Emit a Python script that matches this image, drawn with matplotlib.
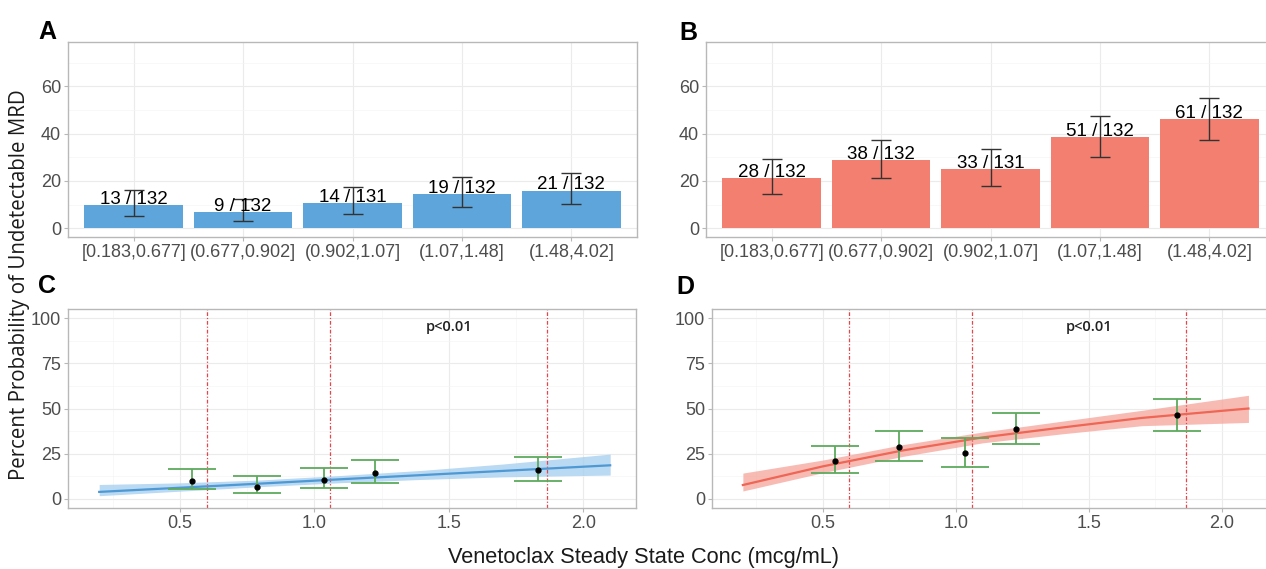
import numpy as np
import matplotlib
matplotlib.use("Agg")
import matplotlib.pyplot as plt
from matplotlib.ticker import FixedLocator

# ---- data -------------------------------------------------------------
bins = ["[0.183,0.677]", "(0.677,0.902]", "(0.902,1.07]", "(1.07,1.48]", "(1.48,4.02]"]

n_total = [132, 132, 131, 132, 132]
a_resp = [13, 9, 14, 19, 21]
a_lo = [5.3, 3.2, 5.9, 8.9, 10.1]
a_hi = [16.3, 12.5, 17.3, 21.6, 23.3]

b_resp = [28, 38, 33, 51, 61]
b_lo = [14.6, 21.2, 17.9, 30.3, 37.5]
b_hi = [29.2, 37.3, 33.6, 47.5, 55.0]

# mean concentration per bin (panels C/D)
bin_conc = [0.545, 0.785, 1.035, 1.225, 1.83]
cut_lines = [0.60, 1.06, 1.865]

# fitted curve and confidence band
fit_x = [0.2, 0.5, 0.8, 1.1, 1.4, 1.7, 2.1]
c_fit = [3.9, 6.2, 8.5, 10.9, 13.2, 15.5, 18.6]
c_fit_lo = [1.8, 4.3, 6.8, 9.0, 10.8, 12.2, 13.2]
c_fit_hi = [8.0, 8.9, 10.5, 13.0, 15.8, 19.3, 24.8]
d_fit = [7.7, 18.0, 26.8, 34.0, 39.5, 44.8, 50.0]
d_fit_lo = [4.4, 14.5, 23.5, 31.0, 36.0, 40.5, 42.3]
d_fit_hi = [14.3, 21.5, 30.0, 37.0, 43.0, 49.0, 57.3]

# ---- style ------------------------------------------------------------
W, H = 1266, 569
BLUE_BAR = "#5DA5DA"
RED_BAR = "#F37F70"
TICK_COL = "#4D4D4D"
GRID_MAJ = "#EBEBEB"
GRID_MIN = "#F5F5F5"
BORDER = "#B8B8B8"
GREEN = "#5DAA5D"
VLINE = "#E2474C"
FONT = "Liberation Sans"

plt.rcParams["font.family"] = FONT

fig = plt.figure(figsize=(W / 100, H / 100), dpi=100)


def px_axes(left, top, right, bottom):
    return fig.add_axes([left / W, 1 - bottom / H, (right - left) / W, (bottom - top) / H])


def style_axes(ax):
    ax.set_facecolor("white")
    for sp in ax.spines.values():
        sp.set_color(BORDER)
        sp.set_linewidth(1.0)
    ax.grid(True, which="major", color=GRID_MAJ, linewidth=0.8)
    ax.grid(True, which="minor", color=GRID_MIN, linewidth=0.5)
    ax.set_axisbelow(True)
    ax.tick_params(which="major", length=3, width=0.8, color=BORDER,
                   labelcolor=TICK_COL, labelsize=13, pad=2)
    ax.tick_params(which="minor", length=0)


def bar_panel(ax, resp, lo, hi, color):
    pos = np.arange(1, len(bins) + 1)
    pct = [100 * r / n for r, n in zip(resp, n_total)]
    ax.bar(pos, pct, width=0.9, color=color, zorder=2)
    ax.errorbar(pos, pct, yerr=[np.array(pct) - lo, np.array(hi) - pct],
                fmt="none", ecolor="#333333", elinewidth=1.0, capsize=7.5,
                capthick=1.0, zorder=3)
    for x, p, r, n in zip(pos, pct, resp, n_total):
        ax.annotate(f"{r} / {n}", (x, p), xytext=(0, 4), textcoords="offset points",
                    ha="center", va="center", fontsize=13.5, color="black", zorder=4)
    ax.set_xlim(0.4, 5.6)
    ax.set_ylim(-3.75, 78.75)
    ax.set_xticks(pos)
    ax.set_xticklabels(bins)
    ax.set_yticks([0, 20, 40, 60])
    ax.yaxis.set_minor_locator(FixedLocator([10, 30, 50, 70]))
    style_axes(ax)


def curve_panel(ax, resp, lo, hi, fit, fit_lo, fit_hi, line_col, band_col):
    pct = [100 * r / n for r, n in zip(resp, n_total)]
    ax.fill_between(fit_x, fit_lo, fit_hi, color=band_col, alpha=0.75, lw=0, zorder=2)
    ax.plot(fit_x, fit, color=line_col, lw=1.6, zorder=3)
    for xv in cut_lines:
        ax.axvline(xv, color=VLINE, lw=0.9, ls=(0, (3, 1.5, 1, 1.5)), zorder=2)
    ax.errorbar(bin_conc, pct, yerr=[np.array(pct) - lo, np.array(hi) - pct],
                fmt="o", ms=3.5, mfc="black", mec="black", ecolor=GREEN,
                elinewidth=1.3, capsize=17, capthick=1.3, zorder=4)
    ax.text(1.5, 95, "p<0.01", ha="center", va="center", fontsize=10.5,
            family="Open Sans", fontweight="semibold", color="#222222")
    ax.set_xlim(0.084, 2.196)
    ax.set_ylim(-5, 105)
    ax.set_xticks([0.5, 1.0, 1.5, 2.0])
    ax.set_yticks([0, 25, 50, 75, 100])
    ax.xaxis.set_minor_locator(FixedLocator([0.25, 0.75, 1.25, 1.75]))
    ax.yaxis.set_minor_locator(FixedLocator([12.5, 37.5, 62.5, 87.5]))
    style_axes(ax)


ax_a = px_axes(68, 42, 637, 237)
bar_panel(ax_a, a_resp, a_lo, a_hi, BLUE_BAR)
ax_b = px_axes(706, 42, 1275, 237)
bar_panel(ax_b, b_resp, b_lo, b_hi, RED_BAR)

ax_c = px_axes(68, 309, 636, 508)
curve_panel(ax_c, a_resp, a_lo, a_hi, c_fit, c_fit_lo, c_fit_hi, "#4E98D3", "#A3CDEE")
ax_d = px_axes(712, 309, 1274, 508)
curve_panel(ax_d, b_resp, b_lo, b_hi, d_fit, d_fit_lo, d_fit_hi, "#EE6655", "#F6A49A")

# panel letters
for lab, x, y in [("A", 38, 39), ("B", 679, 40), ("C", 38, 293), ("D", 676, 294)]:
    fig.text(x / W, 1 - y / H, lab, fontsize=18, fontweight="bold",
             ha="left", va="baseline", color="black")

fig.text(20 / W, 1 - 285 / H, "Percent Probability of Undetectable MRD",
         rotation=90, ha="center", va="center", fontsize=14.8,
         family="Open Sans", color="#1a1a1a")
fig.text(643 / W, 1 - 558 / H, "Venetoclax Steady State Conc (mcg/mL)",
         ha="center", va="center", fontsize=15.7, color="#1a1a1a")

fig.savefig("out.png", dpi=100, facecolor="white")
